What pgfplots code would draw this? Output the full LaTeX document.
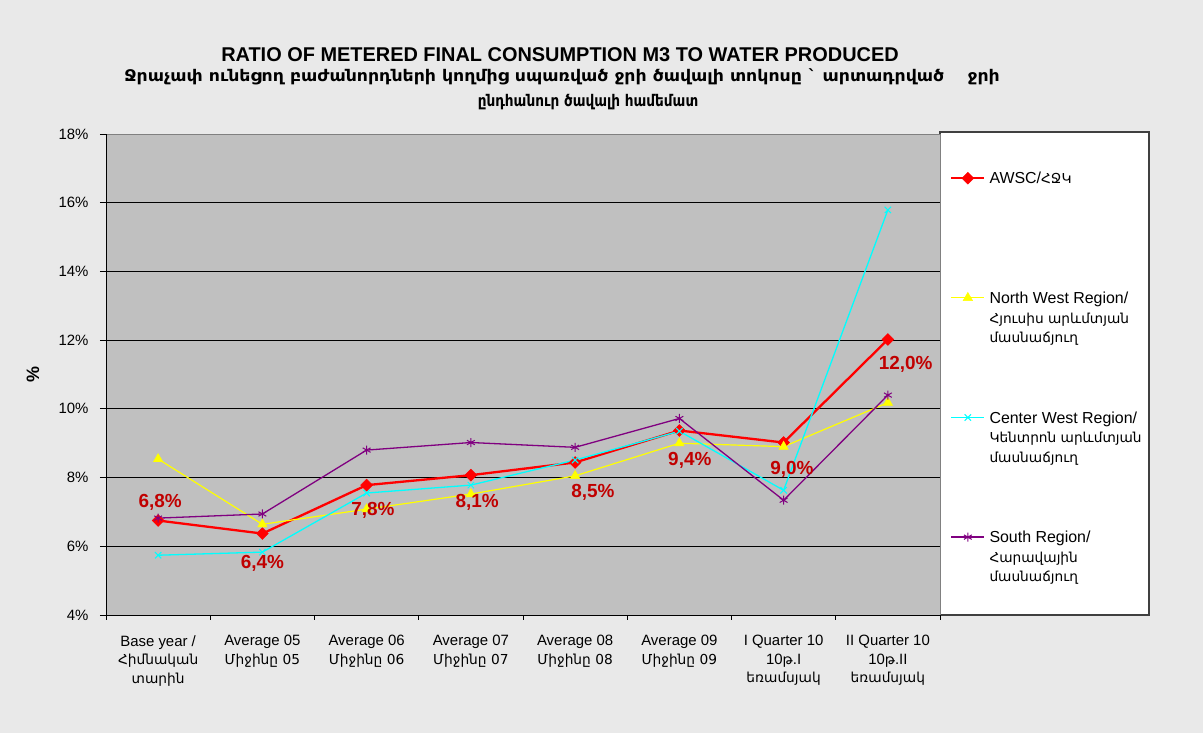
\documentclass[border=0pt]{standalone}
\usepackage{fontspec}
\usepackage{graphicx}
\setmainfont{Liberation Sans}
\newfontfamily\arm[Scale=0.92]{DejaVu Sans}
\newfontfamily\armleg[Scale=0.86]{DejaVu Sans}
\usepackage{pgfplots}
\pgfplotsset{compat=1.18}
\definecolor{bgpage}{RGB}{233,233,233}
\definecolor{plotbg}{RGB}{192,192,192}
\definecolor{lblred}{RGB}{192,0,0}
\definecolor{swpurple}{RGB}{128,0,128}
\definecolor{cwcyan}{RGB}{0,255,255}
\definecolor{nwyellow}{RGB}{255,255,0}
\begin{document}
\begin{tikzpicture}
\fill[bgpage] (0,0) rectangle (1203bp,733bp);
\useasboundingbox (0,0) rectangle (1203bp,733bp);
\filldraw[fill=white, draw=black!75, line width=1.2bp] (940bp,118bp) rectangle (1149bp,601bp);
\node[font=\bfseries\fontsize{20}{22}\selectfont] at (560bp,678bp) {RATIO OF METERED FINAL CONSUMPTION M3 TO WATER PRODUCED};
\node[font=\arm\bfseries\fontsize{17.5}{20}\selectfont] at (562bp,656bp) {\scalebox{1.08}[1]{Ջրաչափ ունեցող բաժանորդների կողմից սպառված ջրի ծավալի տոկոսը ` արտադրված \quad ջրի}};
\node[font=\arm\bfseries\fontsize{17.5}{20}\selectfont] at (588bp,631bp) {\scalebox{0.85}[1]{ընդհանուր ծավալի համեմատ}};
\begin{axis}[
  at={(106bp,118bp)}, anchor=south west,
  scale only axis, width=834bp, height=481bp,
  xmin=-0.5, xmax=7.5, ymin=4, ymax=18,
  axis lines=left, axis line style={-, black, line width=1bp},
  axis background/.style={fill=plotbg, draw=gray},
  ytick={4,6,...,16},
  yticklabels={4\%,6\%,8\%,10\%,12\%,14\%,16\%},
  extra y ticks={18}, extra y tick labels={18\%},
  extra y tick style={grid=none},
  ymajorgrids, major grid style={black, line width=0.9bp},
  tick align=outside, major tick length=6bp, minor tick length=5bp,
  y tick style={black, line width=0.9bp},
  xtick={0,...,7},
  major x tick style={draw=none},
  minor xtick={-0.5,0.5,...,7.5},
  minor x tick style={black, line width=0.9bp},
  xticklabels={
    {Base year /\\{\arm Հիմնական}\\{\arm տարին}},
    {Average 05\\{\arm Միջինը 05}},
    {Average 06\\{\arm Միջինը 06}},
    {Average 07\\{\arm Միջինը 07}},
    {Average 08\\{\arm Միջինը 08}},
    {Average 09\\{\arm Միջինը 09}},
    {I Quarter 10\\10{\arm թ}.I\\{\arm եռամսյակ}},
    {II Quarter 10\\10{\arm թ}.II\\{\arm եռամսյակ}}},
  xticklabel style={align=center, font=\fontsize{15}{18.5}\selectfont, yshift=-11bp},
  yticklabel style={font=\fontsize{15}{18}\selectfont, xshift=-8bp},
  every axis y label/.style={at={(rel axis cs:-0.0875,0.5)}, rotate=90, anchor=center},
  ylabel={\%},
  ylabel style={font=\bfseries\fontsize{18}{20}\selectfont},
  legend image code/.code={
    \draw[mark repeat=2,mark phase=2,#1] plot coordinates {(0bp,-8bp) (16.5bp,-8bp) (33bp,-8bp)};
  },
  legend style={at={(rel axis cs:1,1)}, anchor=north west, xshift=10bp, yshift=-36bp,
    draw=none, fill=none, inner sep=0pt, row sep=65.5bp, column sep=4bp,
    nodes={align=left, inner sep=0pt, font=\fontsize{16}{19.5}\selectfont},
    cells={anchor=north west}},
]
\addplot[red, line width=2.3bp, mark=square*, mark size=4.2bp,
  mark options={rotate=45, fill=red, draw=red, line width=0.5bp}]
  coordinates {(0,6.75) (1,6.37) (2,7.78) (3,8.07) (4,8.44) (5,9.37) (6,9.02) (7,12.02)};
\addlegendentry{\strut AWSC/{\armleg ՀՋԿ}\\\mbox{}\\\mbox{}\strut}
\addplot[nwyellow, line width=1.2bp, mark=triangle*, mark size=5.5bp,
  mark options={fill=nwyellow, draw=nwyellow, line width=0.4bp}]
  coordinates {(0,8.54) (1,6.64) (2,7.08) (3,7.52) (4,8.05) (5,9.0) (6,8.9) (7,10.18)};
\addlegendentry{\strut North West Region/\\{\armleg Հյուսիս արևմտյան}\\{\armleg մասնաճյուղ}\strut}
\addplot[cwcyan, line width=1.3bp, mark=x, mark size=4.5bp, mark options={line width=1bp}]
  coordinates {(0,5.74) (1,5.83) (2,7.55) (3,7.78) (4,8.51) (5,9.35) (6,7.63) (7,15.79)};
\addlegendentry{\strut Center West Region/\\{\armleg Կենտրոն արևմտյան}\\{\armleg մասնաճյուղ}\strut}
\addplot[swpurple, line width=1.3bp, mark=asterisk, mark size=4.5bp, mark options={line width=1bp}]
  coordinates {(0,6.82) (1,6.94) (2,8.8) (3,9.02) (4,8.88) (5,9.72) (6,7.34) (7,10.4)};
\addlegendentry{\strut South Region/\\{\armleg Հարավային}\\{\armleg մասնաճյուղ}\strut}
\addplot[draw=none, mark=none, forget plot, nodes near coords, point meta=explicit symbolic,
  every node near coord/.append style={anchor=center, font=\bfseries\fontsize{19}{22}\selectfont, text=lblred}]
  coordinates {(0.02,7.27) [{6,8\%}] (1.0,5.51) [{6,4\%}] (2.06,7.05) [{7,8\%}] (3.06,7.27) [{8,1\%}]
               (4.17,7.56) [{8,5\%}] (5.10,8.49) [{9,4\%}] (6.08,8.25) [{9,0\%}] (7.17,11.3) [{12,0\%}]};
\end{axis}
\end{tikzpicture}
\end{document}
